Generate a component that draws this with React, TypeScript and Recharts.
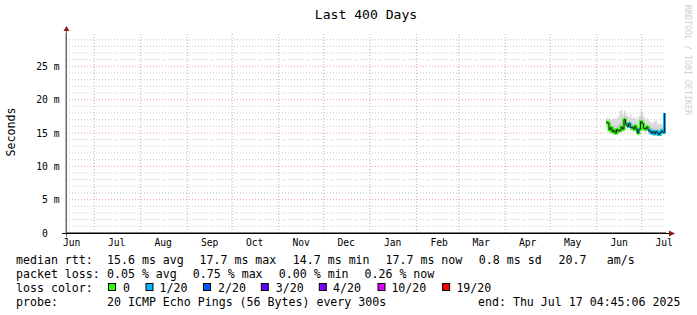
import React from 'react';
import { ComposedChart, Area, Line, XAxis, YAxis, ReferenceLine } from 'recharts';

// ---- data ----
const days = [360, 361, 362, 363, 364, 365, 366, 367, 368, 369, 370, 371, 372, 373, 374, 375, 376, 377, 378, 379,
  380, 381, 382, 383, 384, 385, 386, 387, 388, 389, 390, 391, 392, 393, 394, 395, 396, 397, 398, 399];
const medianMs = [16.6, 16.5, 15.5, 15.8, 15.2, 15.4, 15.0, 15.5, 15.3, 15.4, 15.9, 15.6, 17.0, 16.3, 16.0, 16.4, 15.8, 15.9, 15.6, 16.0,
  15.5, 15.0, 15.6, 16.7, 16.4, 15.7, 15.6, 15.9, 15.4, 15.3, 15.0, 15.2, 14.9, 15.2, 15.0, 14.8, 15.1, 15.3, 15.1, 18.0];
const lossBucket = [0, 0, 0, 0, 0, 0, 0, 0, 0, 0, 0, 0, 0, 0, 1, 1, 0, 0, 0, 0,
  1, 0, 0, 0, 0, 0, 0, 0, 1, 1, 0, 1, 0, 1, 0, 1, 0, 1, 0, 1];
const smokeMinMs = [16.0, 15.9, 15.1, 15.3, 14.9, 15.0, 14.7, 15.0, 14.9, 15.0, 15.3, 15.2, 16.2, 15.8, 15.5, 15.8, 15.3, 15.4, 15.1, 15.5,
  15.0, 14.7, 15.1, 15.9, 15.8, 15.2, 15.1, 15.3, 15.0, 14.9, 14.7, 14.8, 14.6, 14.8, 14.7, 14.5, 14.7, 14.9, 14.8, 15.4];
const smokeMaxMs = [17.3, 17.2, 17.2, 17.0, 17.1, 17.3, 17.0, 17.2, 17.5, 18.3, 18.5, 17.8, 18.4, 17.9, 17.6, 17.4, 17.8, 17.2, 17.4, 17.3,
  17.0, 17.5, 17.6, 18.4, 18.0, 17.4, 17.0, 17.2, 16.9, 16.7, 16.5, 16.6, 16.8, 16.9, 16.4, 16.3, 16.5, 16.4, 16.6, 19.2];
const smokeInnerLoMs = [16.3, 16.2, 15.3, 15.6, 15.0, 15.2, 14.9, 15.3, 15.1, 15.2, 15.6, 15.4, 16.6, 16.0, 15.8, 16.1, 15.6, 15.7, 15.4, 15.8,
  15.3, 14.9, 15.4, 16.3, 16.1, 15.5, 15.4, 15.7, 15.2, 15.1, 14.9, 15.0, 14.8, 15.0, 14.9, 14.7, 14.9, 15.1, 15.0, 16.5];
const smokeInnerHiMs = [16.9, 16.8, 16.2, 16.3, 15.9, 16.1, 15.7, 16.1, 16.0, 16.4, 16.8, 16.4, 17.6, 16.9, 16.6, 16.9, 16.5, 16.4, 16.3, 16.5,
  16.1, 15.8, 16.3, 17.4, 17.0, 16.3, 16.1, 16.4, 16.0, 15.9, 15.7, 15.8, 15.6, 15.8, 15.6, 15.5, 15.7, 15.9, 15.8, 18.3];

const monthStarts = [-11.2, 18.8, 49.8, 80.8, 110.8, 141.8, 171.8, 202.8, 233.8, 261.8, 292.8, 322.8, 353.8, 383.8];
const monthNames = ['Jun', 'Jul', 'Aug', 'Sep', 'Oct', 'Nov', 'Dec', 'Jan', 'Feb', 'Mar', 'Apr', 'May', 'Jun', 'Jul'];
const yTicks = [0, 5, 10, 15, 20, 25];
const yMinor = [1, 2, 3, 4, 6, 7, 8, 9, 11, 12, 13, 14, 16, 17, 18, 19, 21, 22, 23, 24, 26, 27, 28, 29];

const lossLevels = ['0', '1/20', '2/20', '3/20', '4/20', '10/20', '19/20'];
const lossColors = ['#26ff00', '#00b8ff', '#0059ff', '#5e00ff', '#7e00ff', '#dd00ff', '#ff0000'];

const titleText = 'Last 400 Days';
const rttStats = ['15.6 ms avg', '17.7 ms max', '14.7 ms min', '17.7 ms now', '0.8 ms sd', '20.7', 'am/s'];
const lossStats = ['0.05 % avg', '0.75 % max', '0.00 % min', '0.26 % now'];
const probeText = '20 ICMP Echo Pings (56 Bytes) every 300s';
const endText = 'end: Thu Jul 17 04:45:06 2025';

// ---- build table ----
const labelDays = monthStarts.map((d) => d + 15);
const gridDays = monthStarts.filter((d) => d > 0);

const rows = days.map((day, i) => {
  const row: any = {
    day,
    median: medianMs[i],
    smoke: [smokeMinMs[i], smokeMaxMs[i]],
    inner: [smokeInnerLoMs[i], smokeInnerHiMs[i]],
  };
  lossLevels.forEach((_, b) => {
    const hit = lossBucket[i] === b || (i > 0 && lossBucket[i - 1] === b);
    row['l' + b] = hit ? medianMs[i] : null;
  });
  return row;
});
const usedBuckets = lossLevels.map((_, b) => b).filter((b) => lossBucket.includes(b));

// ---- layout ----
const W = 697;
const H = 315;
const MONO = "'DejaVu Sans Mono', monospace";
const LEG_FS = 11.6;
const rowY = [263.5, 277.5, 291.5, 305.5];
const rttX = [107, 199.5, 292.8, 385.5, 478.8, 558.5, 606.8];
const lossX = [107, 192.8, 278.8, 364.5];
const boxX = [108.5, 146, 203.5, 261.3, 319.3, 378, 442.6];
const boxLabelX = [123, 159.6, 218, 275.7, 333, 391.4, 456.4];

const XTick = (props: any) => {
  const { x, y, index } = props;
  return (
    <text x={x} y={y + 13} textAnchor="middle" fontFamily={MONO} fontSize={9.7} fill="#000">
      {monthNames[index]}
    </text>
  );
};

const YTick = (props: any) => {
  const { x, y, payload } = props;
  const v = payload.value;
  return (
    <text x={x - 6.5} y={y + 3.5} textAnchor="end" fontFamily={MONO} fontSize={9.7} fill="#000" xmlSpace="preserve" style={{ whiteSpace: 'pre' }}>
      {v === 0 ? '0  ' : `${v} m`}
    </text>
  );
};

export default function App() {
  return (
    <div style={{ position: 'absolute', left: 0, top: 0, width: W, height: H, background: '#fff' }}>
      <ComposedChart width={W} height={H} data={rows} margin={{ top: 33, right: 31, bottom: 62, left: 0 }}>
        <XAxis
          dataKey="day"
          type="number"
          domain={[0, 400]}
          ticks={labelDays}
          interval={0}
          allowDataOverflow
          tick={<XTick />}
          tickLine={false}
          tickSize={0}
          tickMargin={0}
          height={20}
          axisLine={{ stroke: '#000', strokeWidth: 1 }}
        />
        <YAxis
          type="number"
          domain={[0, 30]}
          ticks={yTicks}
          interval={0}
          allowDataOverflow
          width={66}
          tick={<YTick />}
          tickLine={false}
          tickSize={0}
          tickMargin={0}
          axisLine={{ stroke: '#6a6a6a', strokeWidth: 1 }}
        />
        {yMinor.map((v) => (
          <ReferenceLine key={'ym' + v} y={v} stroke="#c8c8c8" strokeDasharray="1 2" strokeWidth={1} />
        ))}
        {yTicks.filter((v) => v > 0).map((v) => (
          <ReferenceLine key={'yM' + v} y={v} stroke="#e8a0a0" strokeDasharray="1 2" strokeWidth={1} />
        ))}
        {gridDays.map((d) => (
          <ReferenceLine key={'x' + d} x={d} stroke="#e8a0a0" strokeDasharray="1 2" strokeWidth={1} />
        ))}
        <Area dataKey="smoke" type="stepAfter" stroke="none" fill="#dddddd" fillOpacity={1} isAnimationActive={false} />
        <Area dataKey="inner" type="stepAfter" stroke="none" fill="#c6c6c6" fillOpacity={1} isAnimationActive={false} />
        {usedBuckets.map((b) => (
          <Line
            key={'l' + b}
            dataKey={'l' + b}
            type="stepAfter"
            stroke={lossColors[b]}
            strokeWidth={3}
            dot={false}
            connectNulls={false}
            isAnimationActive={false}
          />
        ))}
        <Line dataKey="median" type="stepAfter" stroke="#202020" strokeWidth={1} dot={false} isAnimationActive={false} />
      </ComposedChart>
      <svg width={W} height={H} style={{ position: 'absolute', left: 0, top: 0, pointerEvents: 'none' }}>
        <text x={366} y={18.5} textAnchor="middle" fontFamily={MONO} fontSize={13.1} fill="#000">{titleText}</text>
        <text
          x={688}
          y={60}
          textAnchor="middle"
          dominantBaseline="central"
          fontFamily={MONO}
          fontSize={8.3}
          fill="#cfcfcf"
          transform="rotate(90 688 60)"
        >
          RRDTOOL / TOBI OETIKER
        </text>
        <text
          x={10.5}
          y={132}
          textAnchor="middle"
          dominantBaseline="central"
          fontFamily={MONO}
          fontSize={LEG_FS}
          fill="#000"
          transform="rotate(-90 10.5 132)"
        >
          Seconds
        </text>
        {/* axis extensions and arrows */}
        <line x1={66.5} y1={29} x2={66.5} y2={237} stroke="#6a6a6a" strokeWidth={1} />
        <line x1={62} y1={233.5} x2={670} y2={233.5} stroke="#000" strokeWidth={1} />
        <polygon points="63.5,31 69.5,31 66.5,26" fill="#8b1a1a" />
        <polygon points="669,230.5 669,236.5 675,233.5" fill="#8b1a1a" />
        {/* legend */}
        <g fontFamily={MONO} fontSize={LEG_FS} fill="#000" xmlSpace="preserve" style={{ whiteSpace: 'pre' }}>
          <text x={16} y={rowY[0]}>median rtt:</text>
          {rttStats.map((s, i) => (
            <text key={'r' + i} x={rttX[i]} y={rowY[0]}>{s}</text>
          ))}
          <text x={16} y={rowY[1]}>packet loss:</text>
          {lossStats.map((s, i) => (
            <text key={'p' + i} x={lossX[i]} y={rowY[1]}>{s}</text>
          ))}
          <text x={16} y={rowY[2]}>loss color:</text>
          {lossLevels.map((s, i) => (
            <g key={'c' + i}>
              <rect x={boxX[i]} y={283.5} width={7} height={7} fill={lossColors[i]} stroke="#000" strokeWidth={1} />
              <text x={boxLabelX[i]} y={rowY[2]}>{s}</text>
            </g>
          ))}
          <text x={16} y={rowY[3]}>probe:</text>
          <text x={107} y={rowY[3]}>{probeText}</text>
          <text x={478} y={rowY[3]}>{endText}</text>
        </g>
      </svg>
    </div>
  );
}
